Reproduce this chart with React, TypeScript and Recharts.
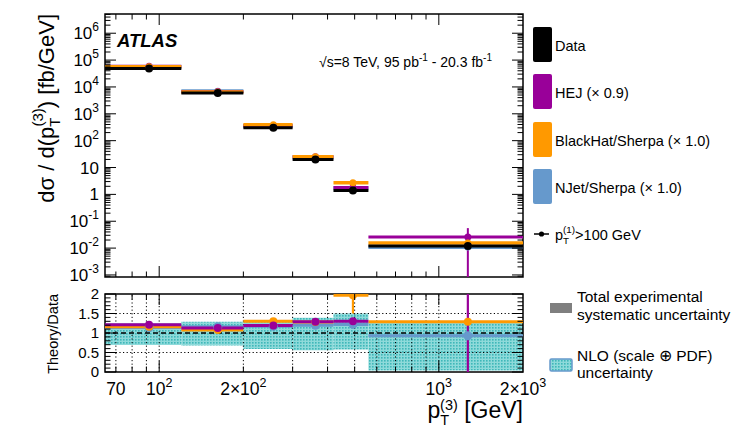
import React from 'react'
import { ComposedChart, XAxis, YAxis, Scatter, ReferenceLine, ReferenceArea } from 'recharts'

const W = 747
const H = 430
const PLOT_L = 105
const PLOT_R = 523
const TOP_T = 14
const TOP_B = 277
const RAT_T = 294
const RAT_B = 372
const FONT = '"Liberation Sans", Arial, Helvetica, sans-serif'

const HEJ = '#990099'
const BH = '#ff9900'
const NJ = '#6699cc'

// bins in pT(3) [GeV]
const binEdges = [64, 120, 200, 300, 420, 560, 2000]
const binCenters = [92, 162, 256, 362, 493, 1270]

// measured cross section [fb/GeV]
const dataXsec = [4.9e4, 6.0e3, 300, 19.7, 1.39, 0.0119]

// theory / data
const hejRatio = [1.21, 1.13, 1.19, 1.29, 1.30, 2.16]
const hejErr = [0.03, 0.03, 0.03, 0.04, 0.05, 2.5]
const bhRatio = [1.16, 1.08, 1.30, 1.28, 1.97, 1.29]
const bhErr = [0.02, 0.02, 0.03, 0.05, 0.47, 0.06]
const njRatio = [1.14, 1.16, 1.17, 1.20, 1.22, 0.93]
const njErr = [0.01, 0.01, 0.02, 0.02, 0.03, 0.05]

// NLO (scale + PDF) band in the ratio
const nloLo = [0.69, 0.68, 0.59, 0.56, 0.58, 0.04]
const nloHi = [1.25, 1.29, 1.31, 1.39, 1.5, 1.27]

// axes
const X_DOMAIN = [64, 2000]
const Y_DOMAIN = [8.4e-4, 5.2e6]
const xTickValues = [70, 80, 90, 100, 200, 300, 400, 500, 600, 700, 800, 900, 1000, 2000]
const xGridValues = [70, 80, 90, 100, 200, 300, 400, 500, 600, 700, 800, 900, 1000]
const xLabels: Record<number, [string, string]> = {
  70: ['70', ''],
  100: ['10', '2'],
  200: ['2\u00d710', '2'],
  1000: ['10', '3'],
  2000: ['2\u00d710', '3'],
}
const yDecades = [-4, -3, -2, -1, 0, 1, 2, 3, 4, 5, 6]
const yMantissas = [1, 2, 3, 4, 5, 6, 7, 8, 9]
const ratioTicks = [0, 0.1, 0.2, 0.3, 0.4, 0.5, 0.6, 0.7, 0.8, 0.9, 1, 1.1, 1.2, 1.3, 1.4, 1.5, 1.6, 1.7, 1.8, 1.9, 2]
const ratioLabels = ['0', '0.5', '1', '1.5', '2']

const yTicks = yDecades
  .flatMap(d => yMantissas.map(m => m * Math.pow(10, d)))
  .filter(v => v >= Y_DOMAIN[0] && v <= Y_DOMAIN[1])

const nj = { name: 'nj', color: NJ, ratio: njRatio, err: njErr, topW: 4, r: 4.5 }
const bh = { name: 'bh', color: BH, ratio: bhRatio, err: bhErr, topW: 3.5, r: 4 }
const hej = { name: 'hej', color: HEJ, ratio: hejRatio, err: hejErr, topW: 3, r: 4 }
// drawing order differs between the two panels
const topOrder = [nj, hej, bh]
const ratioOrder = [nj, bh, hej]

const dot = (color: string, r: number) => (p: any) =>
  p.cx == null || p.cy == null ? <g /> : <circle cx={p.cx} cy={p.cy} r={r} fill={color} />

function TopYTick(props: any) {
  const { y, payload } = props
  const e = Math.log10(payload.value)
  const n = Math.round(e)
  const major = Math.abs(e - n) < 1e-6
  const len = major ? 11 : 5.5
  return (
    <g>
      <line x1={PLOT_L} x2={PLOT_L + len} y1={y} y2={y} stroke="#000" />
      <line x1={PLOT_R} x2={PLOT_R - len} y1={y} y2={y} stroke="#000" />
      {major && (
        <text x={PLOT_L - 6} y={y + 6} textAnchor="end" fontSize={17} fill="#000">
          {n === 0 ? '1' : n === 1 ? '10' : (
            <>
              10<tspan dy={-8} fontSize={12}>{n}</tspan>
            </>
          )}
        </text>
      )}
    </g>
  )
}

function makeXTick(top: number, bottom: number, withLabels: boolean) {
  return (props: any) => {
    const { x, payload } = props
    const v: number = payload.value
    const major = v === 100 || v === 1000
    const len = major ? 11 : 5.5
    const lab = xLabels[v]
    return (
      <g>
        {v < X_DOMAIN[1] && <line x1={x} x2={x} y1={bottom} y2={bottom - len} stroke="#000" />}
        {v < X_DOMAIN[1] && <line x1={x} x2={x} y1={top} y2={top + len} stroke="#000" />}
        {withLabels && lab && (
          <text x={x} y={bottom + 23} textAnchor="middle" fontSize={17.5} fill="#000">
            {lab[0]}
            {lab[1] && <tspan dy={-8} fontSize={12.5}>{lab[1]}</tspan>}
          </text>
        )}
      </g>
    )
  }
}

function RatioYTick(props: any) {
  const { y, payload } = props
  const v: number = payload.value
  const idx = Math.round(v * 10)
  const major = idx % 5 === 0
  const len = major ? 11 : 5.5
  return (
    <g>
      <line x1={PLOT_L} x2={PLOT_L + len} y1={y} y2={y} stroke="#000" />
      <line x1={PLOT_R} x2={PLOT_R - len} y1={y} y2={y} stroke="#000" />
      {major && (
        <text x={PLOT_L - 6} y={y + 5} textAnchor="end" fontSize={15} fill="#000">
          {ratioLabels[idx / 5]}
        </text>
      )}
    </g>
  )
}

function hline(key: string, lo: number, hi: number, y: number, color: string, w: number) {
  return (
    <ReferenceLine
      key={key}
      segment={[{ x: lo, y }, { x: hi, y }]}
      stroke={color}
      strokeWidth={w}
      ifOverflow="hidden"
    />
  )
}

function vline(key: string, x: number, lo: number, hi: number, color: string, w: number) {
  return (
    <ReferenceLine
      key={key}
      segment={[{ x, y: lo }, { x, y: hi }]}
      stroke={color}
      strokeWidth={w}
      ifOverflow="hidden"
    />
  )
}

function TopPanel() {
  const dataPts = binCenters.map((x, i) => ({ x, y: dataXsec[i] }))
  return (
    <ComposedChart
      width={W}
      height={H}
      margin={{ top: TOP_T, right: W - PLOT_R, bottom: H - TOP_B - 1, left: PLOT_L - 1 }}
      style={{ position: 'absolute', left: 0, top: 0 }}
    >
      <XAxis
        type="number"
        dataKey="x"
        scale="log"
        domain={X_DOMAIN}
        allowDataOverflow
        ticks={xTickValues}
        interval={0}
        height={1}
        axisLine={false}
        tickLine={false}
        tick={makeXTick(TOP_T, TOP_B, false)}
      />
      <YAxis
        type="number"
        dataKey="y"
        scale="log"
        domain={Y_DOMAIN}
        allowDataOverflow
        ticks={yTicks}
        interval={0}
        width={1}
        axisLine={false}
        tickLine={false}
        tick={TopYTick}
      />
      {topOrder.flatMap(m =>
        dataXsec.map((d, i) => hline(`t-${m.name}-${i}`, binEdges[i], binEdges[i + 1], d * m.ratio[i], m.color, m.topW))
      )}
      {dataXsec.map((d, i) => hline(`t-data-${i}`, binEdges[i], binEdges[i + 1], d, '#000', 3))}
      {topOrder.flatMap(m =>
        dataXsec.map((d, i) =>
          vline(
            `te-${m.name}-${i}`,
            binCenters[i],
            Math.max(d * (m.ratio[i] - m.err[i]), 1e-7),
            d * (m.ratio[i] + m.err[i]),
            m.color,
            2
          )
        )
      )}
      {topOrder.map(m => (
        <Scatter
          key={`tp-${m.name}`}
          data={binCenters.map((x, i) => ({ x, y: dataXsec[i] * m.ratio[i] }))}
          dataKey="y"
          isAnimationActive={false}
          shape={dot(m.color, 3.5)}
        />
      ))}
      <Scatter data={dataPts} dataKey="y" isAnimationActive={false} shape={dot('#000', 4)} />
      <ReferenceArea
        x1={X_DOMAIN[0]}
        x2={X_DOMAIN[1]}
        y1={Y_DOMAIN[0]}
        y2={Y_DOMAIN[1]}
        fill="none"
        fillOpacity={0}
        stroke="#000"
        strokeWidth={1.5}
        ifOverflow="visible"
      />
    </ComposedChart>
  )
}

function RatioPanel() {
  return (
    <ComposedChart
      width={W}
      height={H}
      margin={{ top: RAT_T, right: W - PLOT_R, bottom: H - RAT_B - 1, left: PLOT_L - 1 }}
      style={{ position: 'absolute', left: 0, top: 0 }}
    >
      <XAxis
        type="number"
        dataKey="x"
        scale="log"
        domain={X_DOMAIN}
        allowDataOverflow
        ticks={xTickValues}
        interval={0}
        height={1}
        axisLine={false}
        tickLine={false}
        tick={makeXTick(RAT_T, RAT_B, true)}
      />
      <YAxis
        type="number"
        dataKey="y"
        domain={[0, 2]}
        allowDataOverflow
        ticks={ratioTicks}
        interval={0}
        width={1}
        axisLine={false}
        tickLine={false}
        tick={RatioYTick}
      />
      {nloLo.map((lo, i) => (
        <ReferenceArea
          key={`nlo-${i}`}
          x1={binEdges[i]}
          x2={binEdges[i + 1]}
          y1={lo}
          y2={nloHi[i]}
          fill="url(#nloPattern)"
          fillOpacity={1}
          stroke="none"
          ifOverflow="hidden"
        />
      ))}
      {xGridValues.map(v => (
        <ReferenceLine key={`gx-${v}`} x={v} stroke="#000" strokeWidth={1} strokeDasharray="1.2 2.4" ifOverflow="hidden" />
      ))}
      {[0.5, 1.5].map(v => (
        <ReferenceLine key={`gy-${v}`} y={v} stroke="#000" strokeWidth={1} strokeDasharray="1.2 2.4" ifOverflow="hidden" />
      ))}
      {ratioOrder.flatMap(m =>
        m.ratio.map((r, i) => hline(`r-${m.name}-${i}`, binEdges[i], binEdges[i + 1], r, m.color, 3))
      )}
      {ratioOrder.flatMap(m =>
        m.ratio.map((r, i) => vline(`re-${m.name}-${i}`, binCenters[i], r - m.err[i], r + m.err[i], m.color, 2.2))
      )}
      <ReferenceLine y={1} stroke="#000" strokeWidth={1.5} strokeDasharray="5 3" ifOverflow="hidden" />
      {ratioOrder.map(m => (
        <Scatter
          key={`rp-${m.name}`}
          data={binCenters.map((x, i) => ({ x, y: m.ratio[i] })).filter(p => p.y <= 2 && p.y >= 0)}
          dataKey="y"
          isAnimationActive={false}
          shape={dot(m.color, m.r)}
        />
      ))}
      <ReferenceArea
        x1={X_DOMAIN[0]}
        x2={X_DOMAIN[1]}
        y1={0}
        y2={2}
        fill="none"
        fillOpacity={0}
        stroke="#000"
        strokeWidth={1.5}
        ifOverflow="visible"
      />
    </ComposedChart>
  )
}

function PtLabel({ x, y, size, sup, rest }: { x: number; y: number; size: number; sup: string; rest: string }) {
  const s = size * 0.68
  return (
    <text x={x} y={y} fontSize={size} fill="#000">
      p
      <tspan dy={size * 0.3} fontSize={s}>T</tspan>
      <tspan dx={-s * 0.61} dy={-size * 0.78} fontSize={s}>{sup}</tspan>
      <tspan dy={size * 0.48}>{rest}</tspan>
    </text>
  )
}

function Overlay() {
  const legend = [
    { label: 'Data', color: '#000', y: 27 },
    { label: 'HEJ (\u00d7 0.9)', color: HEJ, y: 74 },
    { label: 'BlackHat/Sherpa (\u00d7 1.0)', color: BH, y: 122 },
    { label: 'NJet/Sherpa (\u00d7 1.0)', color: NJ, y: 169 },
  ]
  return (
    <svg width={W} height={H} style={{ position: 'absolute', left: 0, top: 0, pointerEvents: 'none' }}>
      <defs>
        <pattern id="nloPattern" width="3" height="3" patternUnits="userSpaceOnUse">
          <rect width="3" height="3" fill="#8edada" />
          <rect width="1.6" height="1.6" fill="#3fb7b9" />
        </pattern>
      </defs>
      <text x={117} y={47} fontSize={18.5} fontWeight="bold" fontStyle="italic" fill="#000">
        ATLAS
      </text>
      <text x={492} y={66.5} textAnchor="end" fontSize={14} fill="#000">
        {'\u221as=8 TeV, 95 pb'}
        <tspan dy={-6} fontSize={10}>-1</tspan>
        <tspan dy={6}>{' - 20.3 fb'}</tspan>
        <tspan dy={-6} fontSize={10}>-1</tspan>
      </text>

      <g transform="translate(54,14) rotate(-90)">
        <text x={0} y={0} textAnchor="end" fontSize={22} fill="#000">
          {'d\u03c3 / d(p'}
          <tspan dy={6} fontSize={15}>T</tspan>
          <tspan dx={-9} dy={-17} fontSize={15}>(3)</tspan>
          <tspan dy={11}>{') [fb/GeV]'}</tspan>
        </text>
      </g>
      <g transform="translate(58,294) rotate(-90)">
        <text x={0} y={0} textAnchor="end" fontSize={14.5} fill="#000">
          Theory/Data
        </text>
      </g>
      <text x={523} y={418} textAnchor="end" fontSize={23} fill="#000">
        p
        <tspan dy={7} fontSize={14.5}>T</tspan>
        <tspan dx={-9} dy={-15} fontSize={14.5}>(3)</tspan>
        <tspan dy={8}>{' [GeV]'}</tspan>
      </text>

      {legend.map(l => (
        <g key={l.label}>
          <rect x={533} y={l.y} width={19} height={35} rx={2} fill={l.color} />
          <text x={555} y={l.y + 23.5} fontSize={14.5} fill="#000">
            {l.label}
          </text>
        </g>
      ))}
      <line x1={534} x2={549} y1={234} y2={234} stroke="#000" strokeWidth={1.5} />
      <circle cx={541.5} cy={234} r={2.6} fill="#000" />
      <PtLabel x={555} y={239.5} size={14.5} sup="(1)" rest=">100 GeV" />

      <rect x={550} y={303} width={22} height={10} fill="#7f7f7f" />
      <text x={577} y={301.5} fontSize={15.5} fill="#000">Total experimental</text>
      <text x={577} y={320} fontSize={15.5} fill="#000">systematic uncertainty</text>
      <rect x={550} y={359} width={22} height={12} rx={1.5} fill="url(#nloPattern)" stroke={NJ} strokeWidth={1.5} />
      <text x={577} y={361} fontSize={15.5} fill="#000">{'NLO (scale \u2295 PDF)'}</text>
      <text x={577} y={378} fontSize={15.5} fill="#000">uncertainty</text>
    </svg>
  )
}

export default function App() {
  return (
    <div style={{ position: 'absolute', left: 0, top: 0, width: W, height: H, background: '#fff', fontFamily: FONT }}>
      <TopPanel />
      <RatioPanel />
      <Overlay />
    </div>
  )
}
